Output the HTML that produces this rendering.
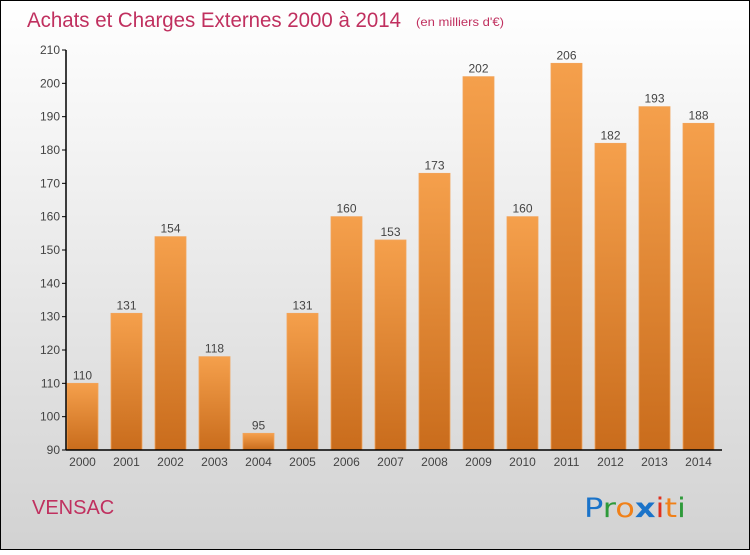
<!DOCTYPE html>
<html><head><meta charset="utf-8"><style>
body{margin:0;width:750px;height:550px;overflow:hidden;font-family:"Liberation Sans",sans-serif}
</style></head><body>
<svg id="c" width="750" height="550" xmlns="http://www.w3.org/2000/svg" font-family="'Liberation Sans',sans-serif">
<defs>
<linearGradient id="bg" x1="0" y1="0" x2="0" y2="1"><stop offset="0" stop-color="#ffffff"/><stop offset="1" stop-color="#d2d2d2"/></linearGradient>
<linearGradient id="bar" x1="0" y1="0" x2="0" y2="1"><stop offset="0" stop-color="#f5a04c"/><stop offset="1" stop-color="#c96c1c"/></linearGradient>
</defs>
<rect x="0.5" y="0.5" width="749" height="549" fill="url(#bg)" stroke="#000"/>
<text x="27" y="27" font-size="21" fill="#c0305f" textLength="374" lengthAdjust="spacingAndGlyphs">Achats et Charges Externes 2000 à 2014</text>
<text x="416" y="26" font-size="12" fill="#c0305f" textLength="88" lengthAdjust="spacingAndGlyphs">(en milliers d'€)</text>
<g id="plot"></g>
<text x="32" y="514" font-size="20" fill="#c0305f">VENSAC</text>
<text x="584" y="517" font-size="27" font-family="'DejaVu Sans',sans-serif" textLength="102" lengthAdjust="spacingAndGlyphs"><tspan fill="#1a73c9">P</tspan><tspan fill="#2e9a3a">r</tspan><tspan fill="#f08018">o</tspan><tspan fill="#1a73c9" font-weight="bold">x</tspan><tspan fill="#e0301e">i</tspan><tspan fill="#f08018">t</tspan><tspan fill="#2e9a3a">i</tspan></text>
</svg>
<script>
const categories=["2000","2001","2002","2003","2004","2005","2006","2007","2008","2009","2010","2011","2012","2013","2014"];
const values=[110,131,154,118,95,131,160,153,173,202,160,206,182,193,188];
const yTicks=[90,100,110,120,130,140,150,160,170,180,190,200,210];
const NS="http://www.w3.org/2000/svg";
const g=document.getElementById('plot');
const y=v=>450-(v-90)*400/120;
const x=i=>82.5+i*44;
function el(t,a,txt){const e=document.createElementNS(NS,t);for(const k in a)e.setAttribute(k,a[k]);if(txt!=null)e.textContent=txt;g.appendChild(e);return e;}
values.forEach((v,i)=>{
 const r=el('rect',{x:x(i)-15.5,y:y(v),width:31,height:450-y(v),fill:'url(#bar)',stroke:'#f2a45a','stroke-width':0.8});
 
 
 const t=el('text',{x:x(i),y:y(v)-4,'text-anchor':'middle','font-size':12,fill:'#444'},v);
 
 
 const c=el('text',{x:x(i),y:466,'text-anchor':'middle','font-size':12,fill:'#444'},categories[i]);
 
 
});
yTicks.forEach(v=>{
 el('line',{x1:62,x2:66,y1:y(v),y2:y(v),stroke:'#000'});
 const t=el('text',{x:60,y:y(v)+4,'text-anchor':'end','font-size':12,fill:'#444'},v);
 
 
});
const ya=el('line',{x1:66,x2:66,y1:50,y2:450,stroke:'#000','stroke-width':1.5});


const xa=el('line',{x1:66,x2:722,y1:450,y2:450,stroke:'#000','stroke-width':1.5});


</script>
</body></html>
